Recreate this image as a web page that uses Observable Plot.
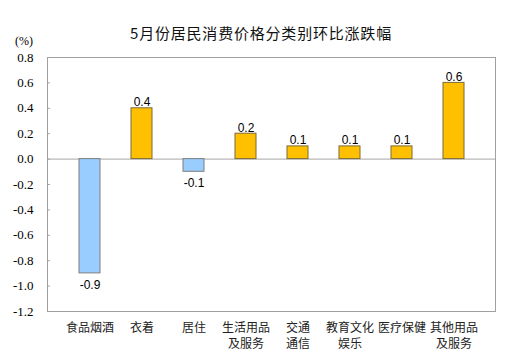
<!DOCTYPE html>
<html>
<head>
<meta charset="utf-8">
<script src="https://cdn.jsdelivr.net/npm/d3@7"></script>
<script src="https://cdn.jsdelivr.net/npm/@observablehq/plot@0.6"></script>
<style>
  body { margin: 0; background: #fff; }
  #wrap { position: relative; width: 522px; height: 363px; }
  #title { position: absolute; left: 0; width: 522px; top: 22px; text-align: center;
    font-family: "Noto Sans CJK SC", sans-serif; font-size: 15px; letter-spacing: 0.8px; color: #111; }
  #unit { position: absolute; left: 15px; top: 34px; font-family: "Liberation Serif", "DejaVu Serif", serif;
    font-size: 12px; color: #000; }
  #chart { position: absolute; left: 0; top: 0; }
  g[aria-label="y-axis tick label"], g[aria-label="y-axis tick label"] text {
    font-family: "Liberation Serif", "DejaVu Serif", serif !important; font-size: 13px !important; }
  g[aria-label="x-axis tick label"], g[aria-label="x-axis tick label"] text {
    font-family: "Noto Sans CJK SC", sans-serif !important; font-size: 12px !important; }
</style>
</head>
<body>
<div id="wrap">
  <div id="chart"></div>
  <div id="title">5月份居民消费价格分类别环比涨跌幅</div>
  <div id="unit">(%)</div>
</div>
<script>
const categories = ["食品烟酒", "衣着", "居住", "生活用品\n及服务", "交通\n通信", "教育文化\n娱乐", "医疗保健", "其他用品\n及服务"];
const values = [-0.9, 0.4, -0.1, 0.2, 0.1, 0.1, 0.1, 0.6];
const yTicks = [0.8, 0.6, 0.4, 0.2, 0.0, -0.2, -0.4, -0.6, -0.8, -1.0, -1.2];

const data = categories.map((c, i) => ({cat: c, v: values[i]}));
const pos = data.filter(d => d.v >= 0);
const neg = data.filter(d => d.v < 0);

const chart = Plot.plot({
  width: 522,
  height: 363,
  marginLeft: 47,
  marginRight: 27,
  marginTop: 57,
  marginBottom: 52,
  x: {domain: categories, padding: 0.6, label: null},
  y: {domain: [-1.2, 0.8], label: null},
  marks: [
    Plot.ruleY([0], {stroke: "#a6a6a6", strokeWidth: 1}),
    Plot.barY(data, {x: "cat", y: "v", fill: d => d.v < 0 ? "#99CCFF" : "#FFC000",
      stroke: d => d.v < 0 ? "#7f7f7f" : "#7a6a3a", strokeWidth: 1}),
    Plot.text(pos, {x: "cat", y: "v", text: d => d.v.toFixed(1), lineAnchor: "bottom", dy: -2,
      fontFamily: "'Liberation Sans', Arial, sans-serif", fontSize: 12, fill: "#000"}),
    Plot.text(neg, {x: "cat", y: "v", text: d => d.v.toFixed(1), lineAnchor: "top", dy: 7,
      fontFamily: "'Liberation Sans', Arial, sans-serif", fontSize: 12, fill: "#000"}),
    Plot.axisY({ticks: yTicks, tickSize: -3, text: null, stroke: "#a6a6a6"}),
    Plot.axisY({ticks: yTicks, tickSize: 0, tickPadding: 14, tickFormat: d => d.toFixed(1),
      fontFamily: "Liberation Serif", fontSize: 13, fill: "#000"}),
    Plot.axisX({tickSize: 0, tickPadding: 9, lineHeight: 1.35,
      fontFamily: "Noto Sans CJK SC", fontSize: 12, fill: "#222"}),
    Plot.frame({stroke: "#a0a0a0", strokeWidth: 1})
  ]
});
document.getElementById("chart").appendChild(chart);
</script>
</body>
</html>
